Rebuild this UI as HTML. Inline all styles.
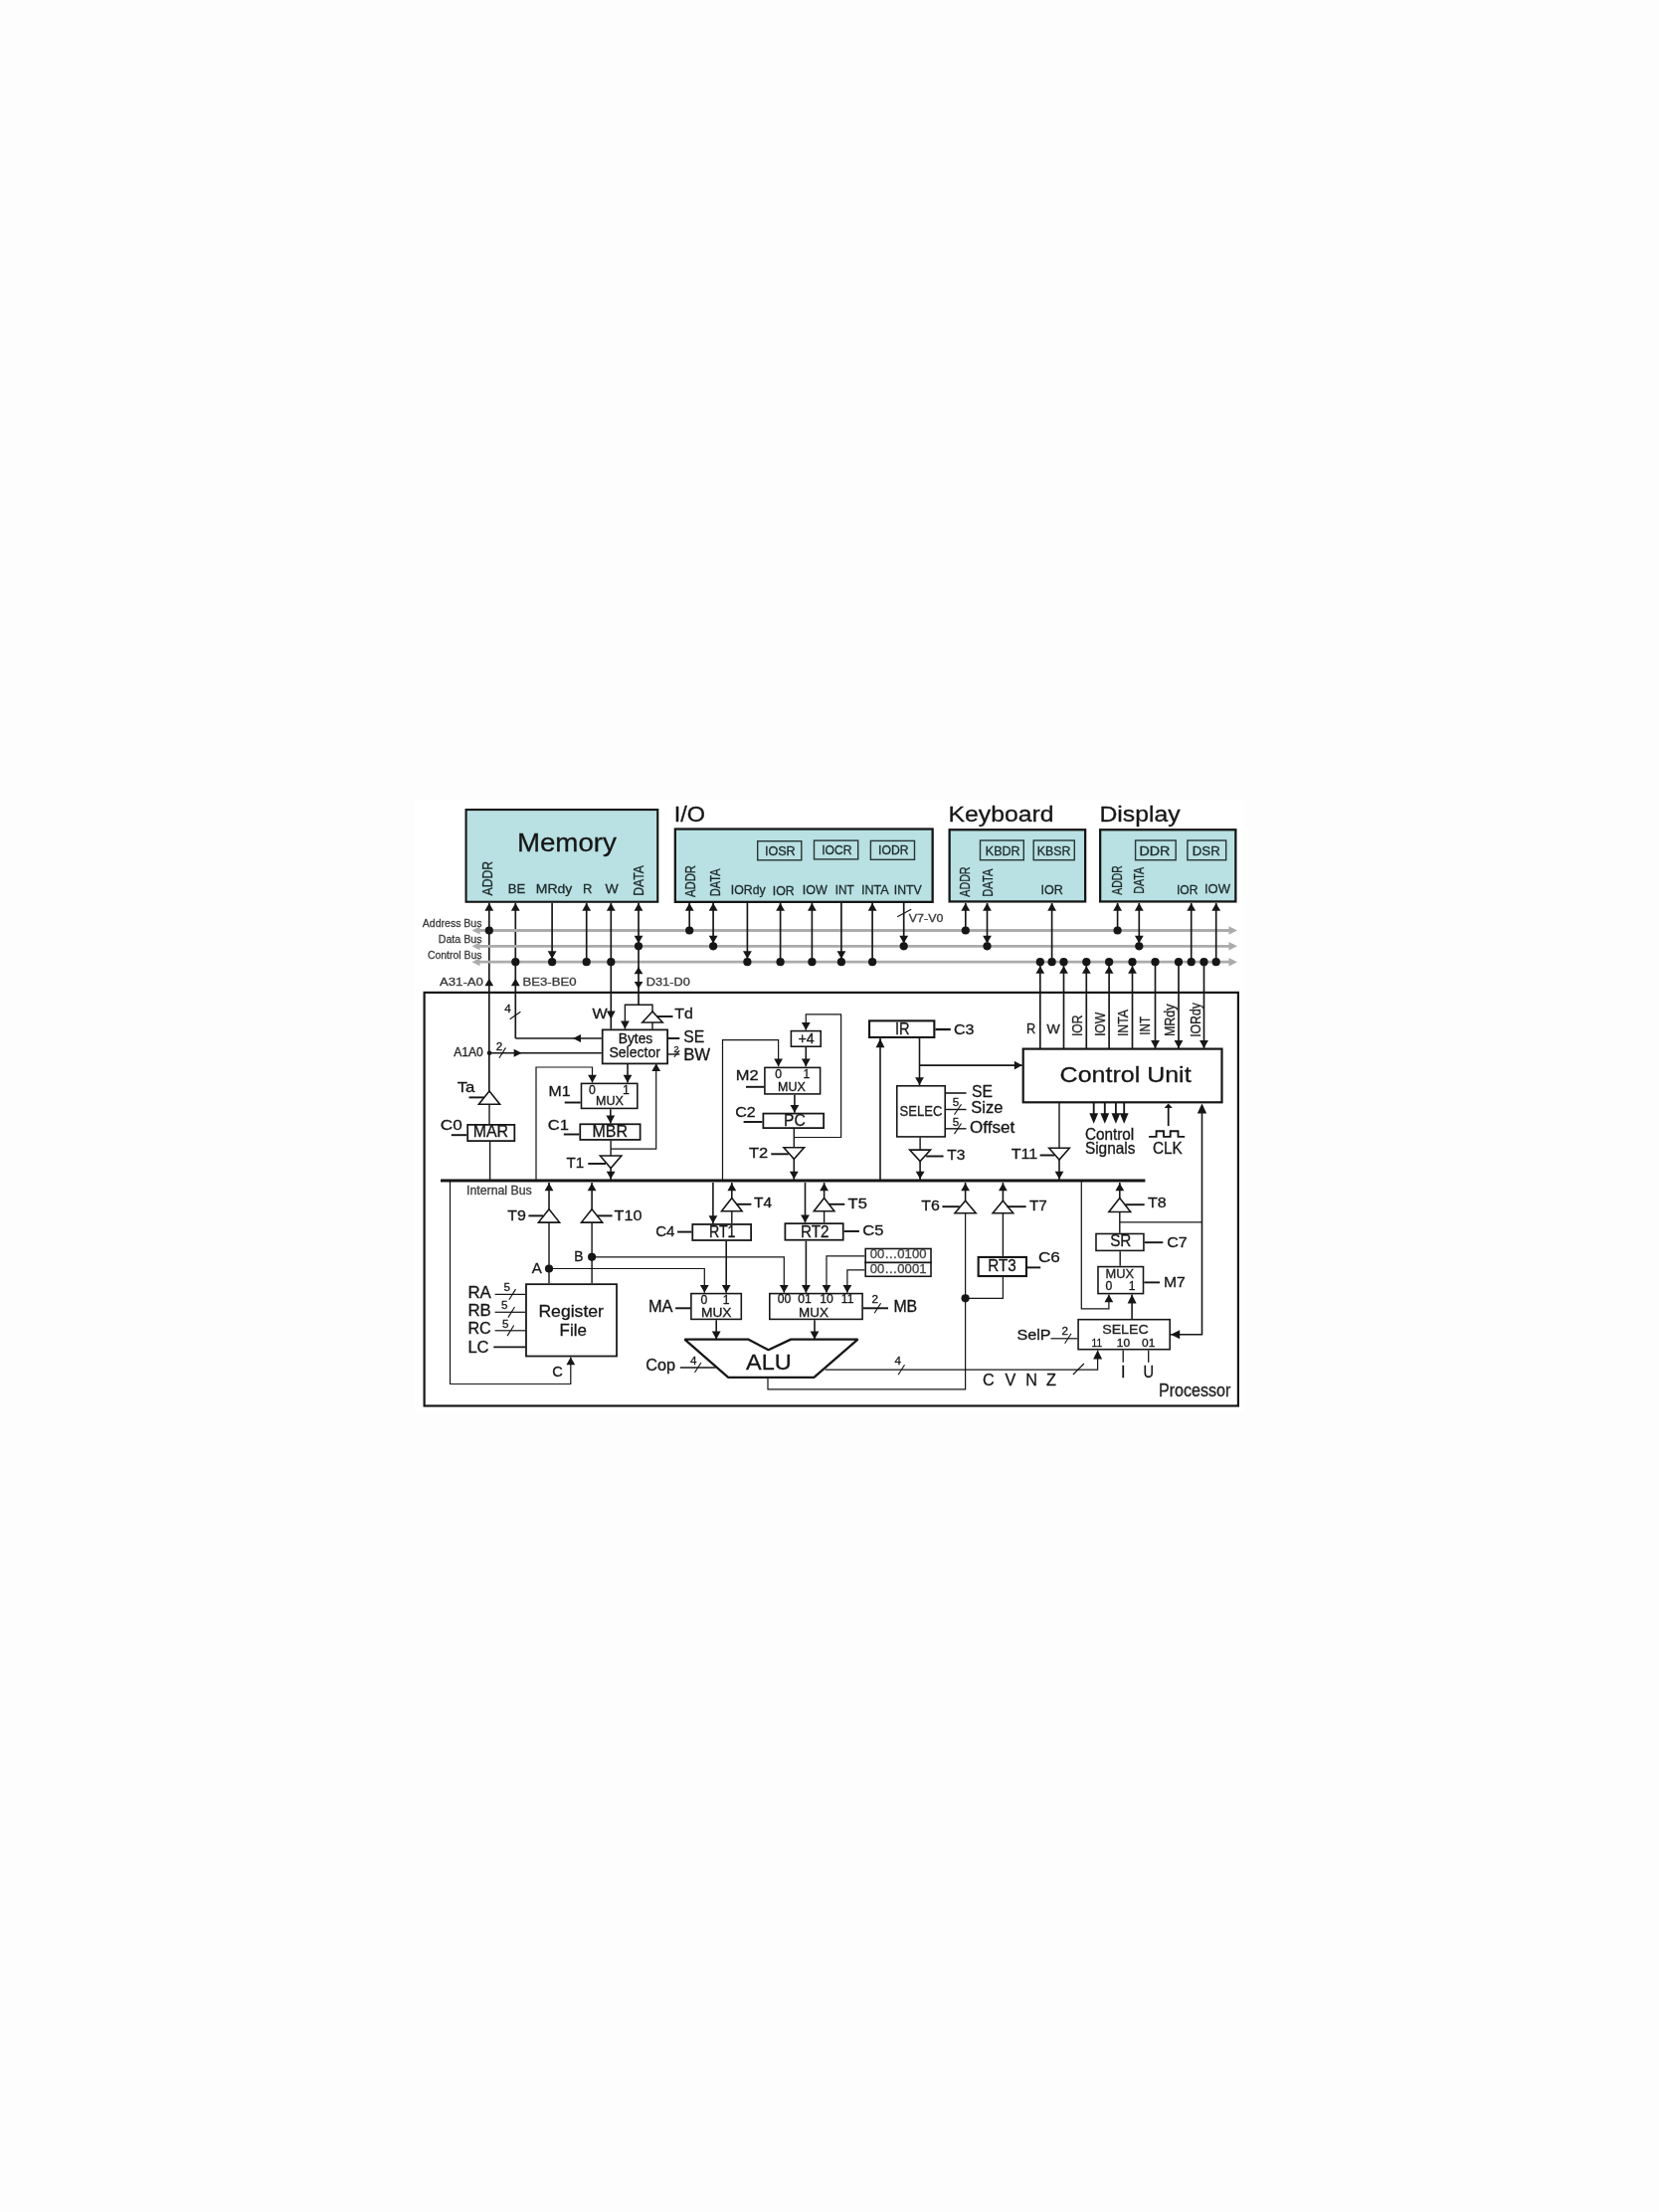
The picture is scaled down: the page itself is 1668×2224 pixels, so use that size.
<!DOCTYPE html>
<html><head><meta charset="utf-8"><style>
html,body{margin:0;padding:0;background:#fdfdfd;}
body{width:1668px;height:2224px;overflow:hidden;position:relative;}
svg{position:absolute;left:0;top:0;filter:blur(0.3px);}
text{font-family:"Liberation Sans",sans-serif;}
</style></head><body>
<svg width="1668" height="2224" viewBox="0 0 1668 2224">
<rect x="417" y="805" width="834" height="614" fill="#ffffff"/>
<rect x="468.56" y="814.06" width="192.69" height="92.69" fill="#b9e0e2" stroke="#161616" stroke-width="2.11"/>
<rect x="678.84" y="833.54" width="258.81" height="73.31" fill="#b9e0e2" stroke="#161616" stroke-width="2.29"/>
<rect x="954.64" y="834.24" width="136.51" height="72.21" fill="#b9e0e2" stroke="#161616" stroke-width="2.29"/>
<rect x="1106.14" y="834.24" width="136.21" height="72.21" fill="#b9e0e2" stroke="#161616" stroke-width="2.29"/>
<rect x="761.7" y="845.7" width="44.09" height="19.09" fill="none" stroke="#263638" stroke-width="1.41"/>
<rect x="818.5" y="845.1" width="44.19" height="18.79" fill="none" stroke="#263638" stroke-width="1.41"/>
<rect x="875.4" y="845.4" width="44.09" height="18.89" fill="none" stroke="#263638" stroke-width="1.41"/>
<rect x="985.5" y="845" width="43.79" height="19.69" fill="none" stroke="#263638" stroke-width="1.41"/>
<rect x="1039.2" y="845" width="41.09" height="19.69" fill="none" stroke="#263638" stroke-width="1.41"/>
<rect x="1141.6" y="845" width="40.59" height="19.69" fill="none" stroke="#263638" stroke-width="1.41"/>
<rect x="1193.9" y="845" width="38.79" height="19.69" fill="none" stroke="#263638" stroke-width="1.41"/>
<text x="519.9" y="856.3" font-size="26.46" fill="#161616" stroke="#161616" stroke-width="0.3" text-anchor="start" textLength="100" lengthAdjust="spacingAndGlyphs">Memory</text>
<text x="677.7" y="826.2" font-size="22.68" fill="#161616" stroke="#161616" stroke-width="0.3" text-anchor="start" textLength="31.3" lengthAdjust="spacingAndGlyphs">I/O</text>
<text x="953.5" y="826.2" font-size="22.68" fill="#161616" stroke="#161616" stroke-width="0.3" text-anchor="start" textLength="106" lengthAdjust="spacingAndGlyphs">Keyboard</text>
<text x="1105.4" y="826.2" font-size="22.68" fill="#161616" stroke="#161616" stroke-width="0.3" text-anchor="start" textLength="81.2" lengthAdjust="spacingAndGlyphs">Display</text>
<text x="768.9" y="859.6" font-size="12.2" fill="#1d2a2c" stroke="#1d2a2c" stroke-width="0.3" text-anchor="start" textLength="30.8" lengthAdjust="spacingAndGlyphs">IOSR</text>
<text x="826.2" y="858.7" font-size="12.2" fill="#1d2a2c" stroke="#1d2a2c" stroke-width="0.3" text-anchor="start" textLength="30.4" lengthAdjust="spacingAndGlyphs">IOCR</text>
<text x="883.1" y="859.4" font-size="12.2" fill="#1d2a2c" stroke="#1d2a2c" stroke-width="0.3" text-anchor="start" textLength="30.4" lengthAdjust="spacingAndGlyphs">IODR</text>
<text x="990.8" y="859.8" font-size="12.2" fill="#1d2a2c" stroke="#1d2a2c" stroke-width="0.3" text-anchor="start" textLength="34.8" lengthAdjust="spacingAndGlyphs">KBDR</text>
<text x="1042.8" y="859.8" font-size="12.2" fill="#1d2a2c" stroke="#1d2a2c" stroke-width="0.3" text-anchor="start" textLength="33.6" lengthAdjust="spacingAndGlyphs">KBSR</text>
<text x="1145.5" y="859.8" font-size="12.2" fill="#1d2a2c" stroke="#1d2a2c" stroke-width="0.3" text-anchor="start" textLength="30.9" lengthAdjust="spacingAndGlyphs">DDR</text>
<text x="1198.8" y="859.8" font-size="12.2" fill="#1d2a2c" stroke="#1d2a2c" stroke-width="0.3" text-anchor="start" textLength="28" lengthAdjust="spacingAndGlyphs">DSR</text>
<text transform="translate(494.8,900.5) rotate(-90)" font-size="14.49" fill="#1d2a2c" stroke="#1d2a2c" stroke-width="0.3" textLength="34.7" lengthAdjust="spacingAndGlyphs">ADDR</text>
<text x="510.8" y="897.5" font-size="13.18" fill="#1d2a2c" stroke="#1d2a2c" stroke-width="0.3" text-anchor="start" textLength="17.5" lengthAdjust="spacingAndGlyphs">BE</text>
<text x="538.8" y="898" font-size="13.18" fill="#1d2a2c" stroke="#1d2a2c" stroke-width="0.3" text-anchor="start" textLength="36.5" lengthAdjust="spacingAndGlyphs">MRdy</text>
<text x="585.9" y="898" font-size="13.18" fill="#1d2a2c" stroke="#1d2a2c" stroke-width="0.3" text-anchor="start" textLength="9.3" lengthAdjust="spacingAndGlyphs">R</text>
<text x="608.5" y="898" font-size="13.18" fill="#1d2a2c" stroke="#1d2a2c" stroke-width="0.3" text-anchor="start" textLength="13.2" lengthAdjust="spacingAndGlyphs">W</text>
<text transform="translate(646.7,900.7) rotate(-90)" font-size="14.49" fill="#1d2a2c" stroke="#1d2a2c" stroke-width="0.3" textLength="30.7" lengthAdjust="spacingAndGlyphs">DATA</text>
<text transform="translate(698.5,902.1) rotate(-90)" font-size="14.49" fill="#1d2a2c" stroke="#1d2a2c" stroke-width="0.3" textLength="32.1" lengthAdjust="spacingAndGlyphs">ADDR</text>
<text transform="translate(723.8,901.2) rotate(-90)" font-size="14.49" fill="#1d2a2c" stroke="#1d2a2c" stroke-width="0.3" textLength="27.8" lengthAdjust="spacingAndGlyphs">DATA</text>
<text x="734.8" y="898.7" font-size="12.96" fill="#1d2a2c" stroke="#1d2a2c" stroke-width="0.3" text-anchor="start" textLength="34.9" lengthAdjust="spacingAndGlyphs">IORdy</text>
<text x="776.8" y="899.6" font-size="12.96" fill="#1d2a2c" stroke="#1d2a2c" stroke-width="0.3" text-anchor="start" textLength="21.9" lengthAdjust="spacingAndGlyphs">IOR</text>
<text x="806.8" y="899" font-size="12.96" fill="#1d2a2c" stroke="#1d2a2c" stroke-width="0.3" text-anchor="start" textLength="25" lengthAdjust="spacingAndGlyphs">IOW</text>
<text x="839.7" y="899" font-size="12.96" fill="#1d2a2c" stroke="#1d2a2c" stroke-width="0.3" text-anchor="start" textLength="19.1" lengthAdjust="spacingAndGlyphs">INT</text>
<text x="865.9" y="899" font-size="12.96" fill="#1d2a2c" stroke="#1d2a2c" stroke-width="0.3" text-anchor="start" textLength="27.9" lengthAdjust="spacingAndGlyphs">INTA</text>
<text x="898.8" y="899" font-size="12.96" fill="#1d2a2c" stroke="#1d2a2c" stroke-width="0.3" text-anchor="start" textLength="27.9" lengthAdjust="spacingAndGlyphs">INTV</text>
<text transform="translate(975.2,901.7) rotate(-90)" font-size="14.49" fill="#1d2a2c" stroke="#1d2a2c" stroke-width="0.3" textLength="30.3" lengthAdjust="spacingAndGlyphs">ADDR</text>
<text transform="translate(997.6,901.7) rotate(-90)" font-size="14.49" fill="#1d2a2c" stroke="#1d2a2c" stroke-width="0.3" textLength="28" lengthAdjust="spacingAndGlyphs">DATA</text>
<text x="1046.5" y="899" font-size="12.96" fill="#1d2a2c" stroke="#1d2a2c" stroke-width="0.3" text-anchor="start" textLength="22.4" lengthAdjust="spacingAndGlyphs">IOR</text>
<text transform="translate(1127.5,899.8) rotate(-90)" font-size="14.49" fill="#1d2a2c" stroke="#1d2a2c" stroke-width="0.3" textLength="29.5" lengthAdjust="spacingAndGlyphs">ADDR</text>
<text transform="translate(1149.9,898.8) rotate(-90)" font-size="14.49" fill="#1d2a2c" stroke="#1d2a2c" stroke-width="0.3" textLength="27" lengthAdjust="spacingAndGlyphs">DATA</text>
<text x="1182.9" y="899" font-size="12.96" fill="#1d2a2c" stroke="#1d2a2c" stroke-width="0.3" text-anchor="start" textLength="21.5" lengthAdjust="spacingAndGlyphs">IOR</text>
<text x="1211" y="898" font-size="12.96" fill="#1d2a2c" stroke="#1d2a2c" stroke-width="0.3" text-anchor="start" textLength="26" lengthAdjust="spacingAndGlyphs">IOW</text>
<line x1="491.8" y1="908" x2="491.8" y2="1097" stroke="#161616" stroke-width="1.67"/>
<line x1="518.3" y1="908" x2="518.3" y2="1044" stroke="#161616" stroke-width="1.67"/>
<line x1="478" y1="935.5" x2="1237" y2="935.5" stroke="#ababab" stroke-width="2.8"/>
<polygon points="474.5,935.5 482.5,931.5 482.5,939.5" fill="#ababab"/>
<polygon points="1244,935.5 1235.5,931.2 1235.5,939.8" fill="#ababab"/>
<line x1="478" y1="951.3" x2="1237" y2="951.3" stroke="#ababab" stroke-width="2.8"/>
<polygon points="474.5,951.3 482.5,947.3 482.5,955.3" fill="#ababab"/>
<polygon points="1244,951.3 1235.5,947 1235.5,955.6" fill="#ababab"/>
<line x1="478" y1="967.2" x2="1237" y2="967.2" stroke="#ababab" stroke-width="2.8"/>
<polygon points="474.5,967.2 482.5,963.2 482.5,971.2" fill="#ababab"/>
<polygon points="1244,967.2 1235.5,962.9 1235.5,971.5" fill="#ababab"/>
<line x1="555.1" y1="908" x2="555.1" y2="967.2" stroke="#161616" stroke-width="1.67"/>
<line x1="589.7" y1="908" x2="589.7" y2="967.2" stroke="#161616" stroke-width="1.67"/>
<line x1="614.3" y1="908" x2="614.3" y2="1034.7" stroke="#161616" stroke-width="1.67"/>
<line x1="642" y1="908" x2="642" y2="1010.3" stroke="#161616" stroke-width="1.67"/>
<line x1="693.2" y1="908" x2="693.2" y2="935.5" stroke="#161616" stroke-width="1.67"/>
<line x1="717.1" y1="908" x2="717.1" y2="951.3" stroke="#161616" stroke-width="1.67"/>
<line x1="751.4" y1="908" x2="751.4" y2="967.2" stroke="#161616" stroke-width="1.67"/>
<line x1="784.6" y1="908" x2="784.6" y2="967.2" stroke="#161616" stroke-width="1.67"/>
<line x1="816.4" y1="908" x2="816.4" y2="967.2" stroke="#161616" stroke-width="1.67"/>
<line x1="877.1" y1="908" x2="877.1" y2="967.2" stroke="#161616" stroke-width="1.67"/>
<line x1="845.9" y1="908" x2="845.9" y2="967.2" stroke="#161616" stroke-width="1.67"/>
<line x1="908.7" y1="908" x2="908.7" y2="951.3" stroke="#161616" stroke-width="1.67"/>
<line x1="902.2" y1="921.8" x2="916.2" y2="914.2" stroke="#161616" stroke-width="1.14"/>
<line x1="970.8" y1="908" x2="970.8" y2="935.5" stroke="#161616" stroke-width="1.67"/>
<line x1="992.5" y1="908" x2="992.5" y2="951.3" stroke="#161616" stroke-width="1.67"/>
<line x1="1057.6" y1="908" x2="1057.6" y2="967.2" stroke="#161616" stroke-width="1.67"/>
<line x1="1123.6" y1="908" x2="1123.6" y2="935.5" stroke="#161616" stroke-width="1.67"/>
<line x1="1145.3" y1="908" x2="1145.3" y2="951.3" stroke="#161616" stroke-width="1.67"/>
<line x1="1197.7" y1="908" x2="1197.7" y2="967.2" stroke="#161616" stroke-width="1.67"/>
<line x1="1222.7" y1="908" x2="1222.7" y2="967.2" stroke="#161616" stroke-width="1.67"/>
<line x1="1045.8" y1="967.2" x2="1045.8" y2="1054" stroke="#161616" stroke-width="1.67"/>
<line x1="1069.5" y1="967.2" x2="1069.5" y2="1054" stroke="#161616" stroke-width="1.67"/>
<line x1="1092.3" y1="967.2" x2="1092.3" y2="1054" stroke="#161616" stroke-width="1.67"/>
<line x1="1115.1" y1="967.2" x2="1115.1" y2="1054" stroke="#161616" stroke-width="1.67"/>
<line x1="1138.5" y1="967.2" x2="1138.5" y2="1054" stroke="#161616" stroke-width="1.67"/>
<line x1="1161.5" y1="967.2" x2="1161.5" y2="1054" stroke="#161616" stroke-width="1.67"/>
<line x1="1185" y1="967.2" x2="1185" y2="1054" stroke="#161616" stroke-width="1.67"/>
<line x1="1210.5" y1="967.2" x2="1210.5" y2="1054" stroke="#161616" stroke-width="1.67"/>
<text x="484.5" y="931.6" font-size="11.34" fill="#3a3a3a" stroke="#3a3a3a" stroke-width="0.3" text-anchor="end" textLength="59.7" lengthAdjust="spacingAndGlyphs">Address Bus</text>
<text x="484.5" y="947.6" font-size="11.34" fill="#3a3a3a" stroke="#3a3a3a" stroke-width="0.3" text-anchor="end" textLength="43.8" lengthAdjust="spacingAndGlyphs">Data Bus</text>
<text x="484.5" y="963.6" font-size="11.34" fill="#3a3a3a" stroke="#3a3a3a" stroke-width="0.3" text-anchor="end" textLength="54.6" lengthAdjust="spacingAndGlyphs">Control Bus</text>
<polygon points="491.8,908 487.4,915.8 496.2,915.8" fill="#161616"/>
<circle cx="491.8" cy="935.5" r="4.1" fill="#161616"/>
<polygon points="491.8,983.8 487.4,991.3 496.2,991.3" fill="#161616"/>
<polygon points="518.3,908 513.9,915.8 522.7,915.8" fill="#161616"/>
<circle cx="518.3" cy="967.2" r="4.1" fill="#161616"/>
<polygon points="518.3,983.8 513.9,991.3 522.7,991.3" fill="#161616"/>
<polygon points="555.1,964 550.7,956.2 559.5,956.2" fill="#161616"/>
<circle cx="555.1" cy="967.2" r="4.1" fill="#161616"/>
<polygon points="589.7,908 585.3,915.8 594.1,915.8" fill="#161616"/>
<circle cx="589.7" cy="967.2" r="4.1" fill="#161616"/>
<polygon points="614.3,908 609.9,915.8 618.7,915.8" fill="#161616"/>
<circle cx="614.3" cy="967.2" r="4.1" fill="#161616"/>
<polygon points="642,908 637.6,915.8 646.4,915.8" fill="#161616"/>
<polygon points="642,948.5 637.6,940.7 646.4,940.7" fill="#161616"/>
<circle cx="642" cy="951.3" r="4.1" fill="#161616"/>
<polygon points="642,972.3 637.6,979.3 646.4,979.3" fill="#161616"/>
<polygon points="642,994 637.6,987 646.4,987" fill="#161616"/>
<text x="442" y="991" font-size="11.34" fill="#3a3a3a" stroke="#3a3a3a" stroke-width="0.3" text-anchor="start" textLength="43.9" lengthAdjust="spacingAndGlyphs">A31-A0</text>
<text x="525.5" y="991" font-size="11.34" fill="#3a3a3a" stroke="#3a3a3a" stroke-width="0.3" text-anchor="start" textLength="54.1" lengthAdjust="spacingAndGlyphs">BE3-BE0</text>
<text x="649.8" y="991.2" font-size="11.34" fill="#3a3a3a" stroke="#3a3a3a" stroke-width="0.3" text-anchor="start" textLength="44" lengthAdjust="spacingAndGlyphs">D31-D0</text>
<polygon points="693.2,908 688.8,915.8 697.6,915.8" fill="#161616"/>
<circle cx="693.2" cy="935.5" r="4.1" fill="#161616"/>
<polygon points="717.1,908 712.7,915.8 721.5,915.8" fill="#161616"/>
<polygon points="717.1,948.5 712.7,940.7 721.5,940.7" fill="#161616"/>
<circle cx="717.1" cy="951.3" r="4.1" fill="#161616"/>
<polygon points="751.4,964 747,956.2 755.8,956.2" fill="#161616"/>
<circle cx="751.4" cy="967.2" r="4.1" fill="#161616"/>
<polygon points="784.6,908 780.2,915.8 789,915.8" fill="#161616"/>
<circle cx="784.6" cy="967.2" r="4.1" fill="#161616"/>
<polygon points="816.4,908 812,915.8 820.8,915.8" fill="#161616"/>
<circle cx="816.4" cy="967.2" r="4.1" fill="#161616"/>
<polygon points="877.1,908 872.7,915.8 881.5,915.8" fill="#161616"/>
<circle cx="877.1" cy="967.2" r="4.1" fill="#161616"/>
<polygon points="845.9,964 841.5,956.2 850.3,956.2" fill="#161616"/>
<circle cx="845.9" cy="967.2" r="4.1" fill="#161616"/>
<polygon points="908.7,948.5 904.3,940.7 913.1,940.7" fill="#161616"/>
<circle cx="908.7" cy="951.3" r="4.1" fill="#161616"/>
<text x="913.8" y="927" font-size="11.34" fill="#3a3a3a" stroke="#3a3a3a" stroke-width="0.3" text-anchor="start" textLength="34.6" lengthAdjust="spacingAndGlyphs">V7-V0</text>
<polygon points="970.8,908 966.4,915.8 975.2,915.8" fill="#161616"/>
<circle cx="970.8" cy="935.5" r="4.1" fill="#161616"/>
<polygon points="992.5,908 988.1,915.8 996.9,915.8" fill="#161616"/>
<polygon points="992.5,948.5 988.1,940.7 996.9,940.7" fill="#161616"/>
<circle cx="992.5" cy="951.3" r="4.1" fill="#161616"/>
<polygon points="1057.6,908 1053.2,915.8 1062,915.8" fill="#161616"/>
<circle cx="1057.6" cy="967.2" r="4.1" fill="#161616"/>
<polygon points="1123.6,908 1119.2,915.8 1128,915.8" fill="#161616"/>
<circle cx="1123.6" cy="935.5" r="4.1" fill="#161616"/>
<polygon points="1145.3,908 1140.9,915.8 1149.7,915.8" fill="#161616"/>
<polygon points="1145.3,948.5 1140.9,940.7 1149.7,940.7" fill="#161616"/>
<circle cx="1145.3" cy="951.3" r="4.1" fill="#161616"/>
<polygon points="1197.7,908 1193.3,915.8 1202.1,915.8" fill="#161616"/>
<circle cx="1197.7" cy="967.2" r="4.1" fill="#161616"/>
<polygon points="1222.7,908 1218.3,915.8 1227.1,915.8" fill="#161616"/>
<circle cx="1222.7" cy="967.2" r="4.1" fill="#161616"/>
<polygon points="1045.8,971.2 1041.4,978.7 1050.2,978.7" fill="#161616"/>
<circle cx="1045.8" cy="967.2" r="4.1" fill="#161616"/>
<polygon points="1069.5,971.2 1065.1,978.7 1073.9,978.7" fill="#161616"/>
<circle cx="1069.5" cy="967.2" r="4.1" fill="#161616"/>
<polygon points="1092.3,971.2 1087.9,978.7 1096.7,978.7" fill="#161616"/>
<circle cx="1092.3" cy="967.2" r="4.1" fill="#161616"/>
<polygon points="1115.1,971.2 1110.7,978.7 1119.5,978.7" fill="#161616"/>
<circle cx="1115.1" cy="967.2" r="4.1" fill="#161616"/>
<polygon points="1138.5,971.2 1134.1,978.7 1142.9,978.7" fill="#161616"/>
<circle cx="1138.5" cy="967.2" r="4.1" fill="#161616"/>
<polygon points="1161.5,1054 1157.1,1046 1165.9,1046" fill="#161616"/>
<circle cx="1161.5" cy="967.2" r="4.1" fill="#161616"/>
<polygon points="1185,1054 1180.6,1046 1189.4,1046" fill="#161616"/>
<circle cx="1185" cy="967.2" r="4.1" fill="#161616"/>
<polygon points="1210.5,1054 1206.1,1046 1214.9,1046" fill="#161616"/>
<circle cx="1210.5" cy="967.2" r="4.1" fill="#161616"/>
<rect x="426.6" y="997.9" width="818.3" height="415.6" fill="none" stroke="#161616" stroke-width="2.2"/>
<line x1="443" y1="1187" x2="1151.4" y2="1187" stroke="#161616" stroke-width="3.17"/>
<text x="469" y="1200.6" font-size="11.88" fill="#3a3a3a" stroke="#3a3a3a" stroke-width="0.3" text-anchor="start" textLength="65.7" lengthAdjust="spacingAndGlyphs">Internal Bus</text>
<text x="1165" y="1404.4" font-size="17.82" fill="#222" stroke="#222" stroke-width="0.3" text-anchor="start" textLength="72.4" lengthAdjust="spacingAndGlyphs">Processor</text>
<polygon points="492,1097 481.4,1110.2 502.6,1110.2" fill="#fff" stroke="#161616" stroke-width="1.58" stroke-linejoin="miter"/>
<line x1="471.5" y1="1103.4" x2="486.7" y2="1103.4" stroke="#161616" stroke-width="1.94"/>
<text x="459.7" y="1097.8" font-size="15.12" fill="#161616" stroke="#161616" stroke-width="0.3" text-anchor="start" textLength="17.7" lengthAdjust="spacingAndGlyphs">Ta</text>
<line x1="492" y1="1110.2" x2="492" y2="1130" stroke="#161616" stroke-width="1.41"/>
<rect x="470.18" y="1130.88" width="47.14" height="16.24" fill="none" stroke="#161616" stroke-width="1.76"/>
<text x="475.7" y="1143.4" font-size="16.2" fill="#161616" stroke="#161616" stroke-width="0.3" text-anchor="start" textLength="35.4" lengthAdjust="spacingAndGlyphs">MAR</text>
<line x1="453.8" y1="1141.2" x2="469.3" y2="1141.2" stroke="#161616" stroke-width="1.94"/>
<text x="442.8" y="1135.8" font-size="15.12" fill="#161616" stroke="#161616" stroke-width="0.3" text-anchor="start" textLength="21.9" lengthAdjust="spacingAndGlyphs">C0</text>
<line x1="492.6" y1="1148" x2="492.6" y2="1187" stroke="#161616" stroke-width="1.41"/>
<circle cx="492" cy="1058.7" r="2.3" fill="#161616"/>
<line x1="492" y1="1058.7" x2="604.8" y2="1058.7" stroke="#161616" stroke-width="1.58"/>
<polygon points="524.6,1058.7 516.6,1054.7 516.6,1062.7" fill="#161616"/>
<line x1="501.9" y1="1063.8" x2="508.5" y2="1053.4" stroke="#161616" stroke-width="1.14"/>
<text x="498.8" y="1056.2" font-size="11.66" fill="#161616" stroke="#161616" stroke-width="0.3" text-anchor="start">2</text>
<text x="456.3" y="1062.2" font-size="11.88" fill="#222" stroke="#222" stroke-width="0.3" text-anchor="start" textLength="29.5" lengthAdjust="spacingAndGlyphs">A1A0</text>
<line x1="518.3" y1="1044" x2="604.8" y2="1044" stroke="#161616" stroke-width="1.58"/>
<polygon points="576,1044 584,1040 584,1048" fill="#161616"/>
<line x1="512.6" y1="1024.7" x2="523.4" y2="1017.3" stroke="#161616" stroke-width="1.14"/>
<text x="507.3" y="1017.8" font-size="11.66" fill="#161616" stroke="#161616" stroke-width="0.3" text-anchor="start">4</text>
<polygon points="614.3,1024.6 609.9,1016.6 618.7,1016.6" fill="#161616"/>
<text x="595.5" y="1023.8" font-size="15.12" fill="#161616" stroke="#161616" stroke-width="0.3" text-anchor="start" textLength="15.2" lengthAdjust="spacingAndGlyphs">W</text>
<polyline points="628.4,1034.7 628.4,1010.3 656,1010.3 656,1017" fill="none" stroke="#161616" stroke-width="1.41" stroke-linejoin="miter"/>
<polygon points="628.4,1034.5 624,1026.5 632.8,1026.5" fill="#161616"/>
<polygon points="656,1017 645.8,1028 666.2,1028" fill="#fff" stroke="#161616" stroke-width="1.58" stroke-linejoin="miter"/>
<line x1="656" y1="1028" x2="656" y2="1034.7" stroke="#161616" stroke-width="1.41"/>
<line x1="660.5" y1="1022" x2="676.5" y2="1022" stroke="#161616" stroke-width="1.94"/>
<text x="678.2" y="1023.8" font-size="15.12" fill="#161616" stroke="#161616" stroke-width="0.3" text-anchor="start" textLength="18.6" lengthAdjust="spacingAndGlyphs">Td</text>
<rect x="605.68" y="1035.38" width="65.44" height="34.04" fill="none" stroke="#161616" stroke-width="1.76"/>
<text x="621.7" y="1049" font-size="14.04" fill="#161616" stroke="#161616" stroke-width="0.3" text-anchor="start" textLength="34.6" lengthAdjust="spacingAndGlyphs">Bytes</text>
<text x="612.4" y="1062.9" font-size="14.04" fill="#161616" stroke="#161616" stroke-width="0.3" text-anchor="start" textLength="51.5" lengthAdjust="spacingAndGlyphs">Selector</text>
<line x1="672" y1="1044" x2="683.3" y2="1044" stroke="#161616" stroke-width="1.94"/>
<text x="687.2" y="1047.8" font-size="16.2" fill="#161616" stroke="#161616" stroke-width="0.3" text-anchor="start" textLength="21" lengthAdjust="spacingAndGlyphs">SE</text>
<line x1="672" y1="1060" x2="683.3" y2="1060" stroke="#161616" stroke-width="1.41"/>
<line x1="677.8" y1="1062.8" x2="683.2" y2="1056.2" stroke="#161616" stroke-width="1.06"/>
<text x="677.4" y="1057.5" font-size="9.18" fill="#161616" stroke="#161616" stroke-width="0.3" text-anchor="start">2</text>
<text x="687.2" y="1066.1" font-size="16.2" fill="#161616" stroke="#161616" stroke-width="0.3" text-anchor="start" textLength="27" lengthAdjust="spacingAndGlyphs">BW</text>
<line x1="631" y1="1069.3" x2="631" y2="1088.6" stroke="#161616" stroke-width="1.58"/>
<polygon points="631,1088.6 626.6,1080.8 635.4,1080.8" fill="#161616"/>
<polyline points="539,1187 539,1073 595.5,1073 595.5,1088.6" fill="none" stroke="#161616" stroke-width="1.23" stroke-linejoin="miter"/>
<polygon points="595.5,1088.6 591.1,1080.8 599.9,1080.8" fill="#161616"/>
<rect x="584.49" y="1089.39" width="56.32" height="25.02" fill="none" stroke="#161616" stroke-width="1.58"/>
<text x="595.5" y="1099.5" font-size="12.2" fill="#161616" stroke="#161616" stroke-width="0.3" text-anchor="middle">0</text>
<text x="629.3" y="1099.5" font-size="12.2" fill="#161616" stroke="#161616" stroke-width="0.3" text-anchor="middle">1</text>
<text x="599" y="1111.4" font-size="11.88" fill="#161616" stroke="#161616" stroke-width="0.3" text-anchor="start" textLength="27.8" lengthAdjust="spacingAndGlyphs">MUX</text>
<line x1="567.7" y1="1108.5" x2="583.7" y2="1108.5" stroke="#161616" stroke-width="1.94"/>
<text x="551.6" y="1102.1" font-size="15.12" fill="#161616" stroke="#161616" stroke-width="0.3" text-anchor="start" textLength="22" lengthAdjust="spacingAndGlyphs">M1</text>
<line x1="613.8" y1="1115.2" x2="613.8" y2="1129.4" stroke="#161616" stroke-width="1.58"/>
<polygon points="613.8,1129.4 609.4,1121.6 618.2,1121.6" fill="#161616"/>
<rect x="583.28" y="1130.28" width="60.34" height="15.64" fill="none" stroke="#161616" stroke-width="1.76"/>
<text x="595.5" y="1143" font-size="16.2" fill="#161616" stroke="#161616" stroke-width="0.3" text-anchor="start" textLength="35.5" lengthAdjust="spacingAndGlyphs">MBR</text>
<line x1="566.8" y1="1140.5" x2="582.4" y2="1140.5" stroke="#161616" stroke-width="1.94"/>
<text x="550.8" y="1135.8" font-size="15.12" fill="#161616" stroke="#161616" stroke-width="0.3" text-anchor="start" textLength="21.1" lengthAdjust="spacingAndGlyphs">C1</text>
<line x1="614.1" y1="1146.8" x2="614.1" y2="1162" stroke="#161616" stroke-width="1.41"/>
<polyline points="614.1,1155.2 659.7,1155.2 659.7,1069.3" fill="none" stroke="#161616" stroke-width="1.23" stroke-linejoin="miter"/>
<polygon points="659.7,1069.3 655.3,1077.1 664.1,1077.1" fill="#161616"/>
<polygon points="603.4,1162 624.8,1162 614.1,1174.6" fill="#fff" stroke="#161616" stroke-width="1.58" stroke-linejoin="miter"/>
<line x1="591.3" y1="1170" x2="609" y2="1170" stroke="#161616" stroke-width="1.94"/>
<text x="569.4" y="1173.8" font-size="15.12" fill="#161616" stroke="#161616" stroke-width="0.3" text-anchor="start" textLength="17.7" lengthAdjust="spacingAndGlyphs">T1</text>
<line x1="614.1" y1="1174.6" x2="614.1" y2="1187" stroke="#161616" stroke-width="1.58"/>
<polygon points="614.1,1185.5 609.7,1177.7 618.5,1177.7" fill="#161616"/>
<polyline points="726.5,1187 726.5,1045.6 782.6,1045.6 782.6,1072.3" fill="none" stroke="#161616" stroke-width="1.23" stroke-linejoin="miter"/>
<polygon points="782.6,1072.3 778.2,1064.5 787,1064.5" fill="#161616"/>
<rect x="795.39" y="1036.59" width="29.82" height="15.62" fill="none" stroke="#161616" stroke-width="1.58"/>
<text x="802.5" y="1048.8" font-size="14.04" fill="#161616" stroke="#161616" stroke-width="0.3" text-anchor="start" textLength="16.2" lengthAdjust="spacingAndGlyphs">+4</text>
<polyline points="798.3,1143.5 845.6,1143.5 845.6,1019.9 810.3,1019.9 810.3,1035.8" fill="none" stroke="#161616" stroke-width="1.23" stroke-linejoin="miter"/>
<polygon points="810.3,1035.8 805.9,1028 814.7,1028" fill="#161616"/>
<line x1="810.3" y1="1053" x2="810.3" y2="1072.3" stroke="#161616" stroke-width="1.58"/>
<polygon points="810.3,1072.3 805.9,1064.5 814.7,1064.5" fill="#161616"/>
<rect x="768.89" y="1073.39" width="55.72" height="26.52" fill="none" stroke="#161616" stroke-width="1.58"/>
<text x="782.6" y="1084.4" font-size="12.2" fill="#161616" stroke="#161616" stroke-width="0.3" text-anchor="middle">0</text>
<text x="810.9" y="1084.4" font-size="12.2" fill="#161616" stroke="#161616" stroke-width="0.3" text-anchor="middle">1</text>
<text x="782" y="1097" font-size="11.88" fill="#161616" stroke="#161616" stroke-width="0.3" text-anchor="start" textLength="27.7" lengthAdjust="spacingAndGlyphs">MUX</text>
<line x1="750" y1="1092.8" x2="768.1" y2="1092.8" stroke="#161616" stroke-width="1.94"/>
<text x="739.8" y="1086.2" font-size="15.12" fill="#161616" stroke="#161616" stroke-width="0.3" text-anchor="start" textLength="22.9" lengthAdjust="spacingAndGlyphs">M2</text>
<line x1="798.9" y1="1100.7" x2="798.9" y2="1118.7" stroke="#161616" stroke-width="1.58"/>
<polygon points="798.9,1118.7 794.5,1110.9 803.3,1110.9" fill="#161616"/>
<rect x="767.38" y="1119.58" width="60.74" height="14.54" fill="none" stroke="#161616" stroke-width="1.76"/>
<text x="788" y="1132" font-size="16.2" fill="#161616" stroke="#161616" stroke-width="0.3" text-anchor="start" textLength="21.7" lengthAdjust="spacingAndGlyphs">PC</text>
<line x1="747.6" y1="1128" x2="766.5" y2="1128" stroke="#161616" stroke-width="1.94"/>
<text x="739.2" y="1123" font-size="15.12" fill="#161616" stroke="#161616" stroke-width="0.3" text-anchor="start" textLength="20.5" lengthAdjust="spacingAndGlyphs">C2</text>
<line x1="798.3" y1="1135" x2="798.3" y2="1153.7" stroke="#161616" stroke-width="1.41"/>
<polygon points="788,1153.7 808.5,1153.7 798.3,1165.2" fill="#fff" stroke="#161616" stroke-width="1.58" stroke-linejoin="miter"/>
<line x1="775.3" y1="1160.3" x2="792.8" y2="1160.3" stroke="#161616" stroke-width="1.94"/>
<text x="753" y="1164" font-size="15.12" fill="#161616" stroke="#161616" stroke-width="0.3" text-anchor="start" textLength="19.3" lengthAdjust="spacingAndGlyphs">T2</text>
<line x1="798.3" y1="1165.2" x2="798.3" y2="1187" stroke="#161616" stroke-width="1.58"/>
<polygon points="798.3,1185.5 793.9,1177.7 802.7,1177.7" fill="#161616"/>
<line x1="885" y1="1187" x2="885" y2="1044" stroke="#161616" stroke-width="1.58"/>
<polygon points="885,1044.2 880.6,1053.2 889.4,1053.2" fill="#161616"/>
<rect x="874.06" y="1026.36" width="65.29" height="16.59" fill="none" stroke="#161616" stroke-width="2.11"/>
<text x="900" y="1039.6" font-size="16.74" fill="#161616" stroke="#161616" stroke-width="0.3" text-anchor="start" textLength="14.6" lengthAdjust="spacingAndGlyphs">IR</text>
<line x1="940.4" y1="1035" x2="955.8" y2="1035" stroke="#161616" stroke-width="2.29"/>
<text x="958.9" y="1039.8" font-size="15.12" fill="#161616" stroke="#161616" stroke-width="0.3" text-anchor="start" textLength="20.4" lengthAdjust="spacingAndGlyphs">C3</text>
<line x1="924.5" y1="1044" x2="924.5" y2="1091" stroke="#161616" stroke-width="1.58"/>
<polygon points="924.5,1091 920.1,1083.2 928.9,1083.2" fill="#161616"/>
<line x1="924.5" y1="1071.1" x2="1027.6" y2="1071.1" stroke="#161616" stroke-width="1.58"/>
<polygon points="1027.6,1071.1 1019.8,1066.7 1019.8,1075.5" fill="#161616"/>
<rect x="901.79" y="1091.79" width="48.42" height="51.12" fill="none" stroke="#161616" stroke-width="1.58"/>
<text x="904.6" y="1122.4" font-size="14.04" fill="#222" stroke="#222" stroke-width="0.3" text-anchor="start" textLength="42.8" lengthAdjust="spacingAndGlyphs">SELEC</text>
<line x1="950.4" y1="1099" x2="971.5" y2="1099" stroke="#161616" stroke-width="1.58"/>
<text x="977" y="1102.5" font-size="16.2" fill="#161616" stroke="#161616" stroke-width="0.3" text-anchor="start" textLength="21" lengthAdjust="spacingAndGlyphs">SE</text>
<line x1="950.4" y1="1115.5" x2="971.5" y2="1115.5" stroke="#161616" stroke-width="1.41"/>
<line x1="959.5" y1="1120.8" x2="966.5" y2="1110.2" stroke="#161616" stroke-width="1.14"/>
<text x="957.8" y="1112" font-size="11.66" fill="#161616" stroke="#161616" stroke-width="0.3" text-anchor="start">5</text>
<text x="976.3" y="1119.3" font-size="16.2" fill="#161616" stroke="#161616" stroke-width="0.3" text-anchor="start" textLength="32" lengthAdjust="spacingAndGlyphs">Size</text>
<line x1="950.4" y1="1134.8" x2="971.5" y2="1134.8" stroke="#161616" stroke-width="1.41"/>
<line x1="959.5" y1="1140.1" x2="966.5" y2="1129.5" stroke="#161616" stroke-width="1.14"/>
<text x="957.8" y="1131.8" font-size="11.66" fill="#161616" stroke="#161616" stroke-width="0.3" text-anchor="start">5</text>
<text x="975.1" y="1139.2" font-size="16.2" fill="#161616" stroke="#161616" stroke-width="0.3" text-anchor="start" textLength="45.2" lengthAdjust="spacingAndGlyphs">Offset</text>
<line x1="925.1" y1="1143.5" x2="925.1" y2="1156.1" stroke="#161616" stroke-width="1.41"/>
<polygon points="914.6,1156.1 935.6,1156.1 925.1,1167.6" fill="#fff" stroke="#161616" stroke-width="1.58" stroke-linejoin="miter"/>
<line x1="931.1" y1="1162.5" x2="948.6" y2="1162.5" stroke="#161616" stroke-width="1.94"/>
<text x="952.2" y="1166.4" font-size="15.12" fill="#161616" stroke="#161616" stroke-width="0.3" text-anchor="start" textLength="18.1" lengthAdjust="spacingAndGlyphs">T3</text>
<line x1="925.1" y1="1167.6" x2="925.1" y2="1187" stroke="#161616" stroke-width="1.58"/>
<polygon points="925.1,1185.5 920.7,1177.7 929.5,1177.7" fill="#161616"/>
<rect x="1028.7" y="1054.6" width="199.8" height="53.7" fill="none" stroke="#161616" stroke-width="2.2"/>
<text x="1065.6" y="1088.2" font-size="22.68" fill="#161616" stroke="#161616" stroke-width="0.3" text-anchor="start" textLength="132" lengthAdjust="spacingAndGlyphs">Control Unit</text>
<text x="1032" y="1039.4" font-size="14.04" fill="#222" stroke="#222" stroke-width="0.3" text-anchor="start" textLength="9.2" lengthAdjust="spacingAndGlyphs">R</text>
<text x="1052.6" y="1039.2" font-size="12.96" fill="#222" stroke="#222" stroke-width="0.3" text-anchor="start" textLength="13.2" lengthAdjust="spacingAndGlyphs">W</text>
<text transform="translate(1087.7,1042.1) rotate(-90)" font-size="14.26" fill="#222" stroke="#222" stroke-width="0.3" textLength="21.5" lengthAdjust="spacingAndGlyphs">IOR</text>
<text transform="translate(1110.5,1042.1) rotate(-90)" font-size="14.26" fill="#222" stroke="#222" stroke-width="0.3" textLength="24.3" lengthAdjust="spacingAndGlyphs">IOW</text>
<text transform="translate(1134.1,1042.1) rotate(-90)" font-size="14.26" fill="#222" stroke="#222" stroke-width="0.3" textLength="27" lengthAdjust="spacingAndGlyphs">INTA</text>
<text transform="translate(1156.3,1040.7) rotate(-90)" font-size="14.26" fill="#222" stroke="#222" stroke-width="0.3" textLength="18.7" lengthAdjust="spacingAndGlyphs">INT</text>
<text transform="translate(1181.2,1042.1) rotate(-90)" font-size="14.26" fill="#222" stroke="#222" stroke-width="0.3" textLength="32.6" lengthAdjust="spacingAndGlyphs">MRdy</text>
<text transform="translate(1206.9,1042.8) rotate(-90)" font-size="14.26" fill="#222" stroke="#222" stroke-width="0.3" textLength="34.7" lengthAdjust="spacingAndGlyphs">IORdy</text>
<line x1="1065" y1="1108.5" x2="1065" y2="1154.3" stroke="#161616" stroke-width="1.41"/>
<polygon points="1054.7,1154.3 1075.3,1154.3 1065,1166" fill="#fff" stroke="#161616" stroke-width="1.58" stroke-linejoin="miter"/>
<line x1="1045.6" y1="1161.5" x2="1060.2" y2="1161.5" stroke="#161616" stroke-width="1.94"/>
<text x="1016.7" y="1165.4" font-size="15.12" fill="#161616" stroke="#161616" stroke-width="0.3" text-anchor="start" textLength="26.5" lengthAdjust="spacingAndGlyphs">T11</text>
<line x1="1065" y1="1166" x2="1065" y2="1187" stroke="#161616" stroke-width="1.58"/>
<polygon points="1065,1185.5 1060.6,1177.7 1069.4,1177.7" fill="#161616"/>
<line x1="1099.7" y1="1108.5" x2="1099.7" y2="1120" stroke="#161616" stroke-width="1.85"/>
<polygon points="1099.7,1129.8 1095.3,1119.3 1104.1,1119.3" fill="#161616"/>
<line x1="1110.8" y1="1108.5" x2="1110.8" y2="1120" stroke="#161616" stroke-width="1.85"/>
<polygon points="1110.8,1129.8 1106.4,1119.3 1115.2,1119.3" fill="#161616"/>
<line x1="1121.9" y1="1108.5" x2="1121.9" y2="1120" stroke="#161616" stroke-width="1.85"/>
<polygon points="1121.9,1129.8 1117.5,1119.3 1126.3,1119.3" fill="#161616"/>
<line x1="1130.2" y1="1108.5" x2="1130.2" y2="1120" stroke="#161616" stroke-width="1.85"/>
<polygon points="1130.2,1129.8 1125.8,1119.3 1134.6,1119.3" fill="#161616"/>
<text x="1090.9" y="1145.5" font-size="15.66" fill="#161616" stroke="#161616" stroke-width="0.3" text-anchor="start" textLength="49.4" lengthAdjust="spacingAndGlyphs">Control</text>
<text x="1090.9" y="1159.8" font-size="15.66" fill="#161616" stroke="#161616" stroke-width="0.3" text-anchor="start" textLength="50.6" lengthAdjust="spacingAndGlyphs">Signals</text>
<line x1="1174.7" y1="1132.1" x2="1174.7" y2="1112" stroke="#161616" stroke-width="1.76"/>
<polygon points="1174.7,1109.4 1170.6,1114 1178.8,1114" fill="#161616"/>
<polyline points="1155.1,1142.9 1162.6,1142.9 1162.6,1137.2 1170,1137.2 1170,1142.9 1176.7,1142.9 1176.7,1137.2 1184.5,1137.2 1184.5,1142.9 1191.2,1142.9" fill="none" stroke="#161616" stroke-width="1.85" stroke-linejoin="miter"/>
<text x="1159" y="1159.6" font-size="15.66" fill="#161616" stroke="#161616" stroke-width="0.3" text-anchor="start" textLength="29.8" lengthAdjust="spacingAndGlyphs">CLK</text>
<polyline points="1177,1341.8 1208.5,1341.8 1208.5,1112" fill="none" stroke="#161616" stroke-width="1.58" stroke-linejoin="miter"/>
<polygon points="1208.5,1109.6 1203.8,1119.6 1213.2,1119.6" fill="#161616"/>
<polygon points="1177.2,1341.8 1186.2,1337.3 1186.2,1346.3" fill="#161616"/>
<line x1="1125.8" y1="1228.8" x2="1208.5" y2="1228.8" stroke="#161616" stroke-width="1.23"/>
<polyline points="452.5,1187 452.5,1391.5 573.8,1391.5 573.8,1364.4" fill="none" stroke="#161616" stroke-width="1.23" stroke-linejoin="miter"/>
<polygon points="573.8,1364.4 569.4,1372.2 578.2,1372.2" fill="#161616"/>
<text x="555.3" y="1383.6" font-size="15.12" fill="#161616" stroke="#161616" stroke-width="0.3" text-anchor="start" textLength="10.6" lengthAdjust="spacingAndGlyphs">C</text>
<line x1="552" y1="1290.3" x2="552" y2="1229.1" stroke="#161616" stroke-width="1.41"/>
<polygon points="552,1215.8 541.4,1229.1 562.6,1229.1" fill="#fff" stroke="#161616" stroke-width="1.58" stroke-linejoin="miter"/>
<line x1="552" y1="1215.8" x2="552" y2="1189" stroke="#161616" stroke-width="1.58"/>
<polygon points="552,1189.4 547.6,1197.2 556.4,1197.2" fill="#161616"/>
<line x1="531.4" y1="1222.4" x2="546" y2="1222.4" stroke="#161616" stroke-width="1.94"/>
<text x="510.2" y="1226.8" font-size="15.12" fill="#161616" stroke="#161616" stroke-width="0.3" text-anchor="start" textLength="18.6" lengthAdjust="spacingAndGlyphs">T9</text>
<line x1="595.1" y1="1290.3" x2="595.1" y2="1229.1" stroke="#161616" stroke-width="1.41"/>
<polygon points="595.1,1215.8 584.5,1229.1 605.7,1229.1" fill="#fff" stroke="#161616" stroke-width="1.58" stroke-linejoin="miter"/>
<line x1="595.1" y1="1215.8" x2="595.1" y2="1189" stroke="#161616" stroke-width="1.58"/>
<polygon points="595.1,1189.4 590.7,1197.2 599.5,1197.2" fill="#161616"/>
<line x1="600.4" y1="1222.4" x2="615.6" y2="1222.4" stroke="#161616" stroke-width="1.94"/>
<text x="617.5" y="1226.8" font-size="15.12" fill="#161616" stroke="#161616" stroke-width="0.3" text-anchor="start" textLength="27.9" lengthAdjust="spacingAndGlyphs">T10</text>
<circle cx="552" cy="1275.5" r="4.1" fill="#161616"/>
<text x="534.7" y="1280.1" font-size="15.12" fill="#161616" stroke="#161616" stroke-width="0.3" text-anchor="start" textLength="10" lengthAdjust="spacingAndGlyphs">A</text>
<polyline points="552,1275.5 708.3,1275.5 708.3,1299.8" fill="none" stroke="#161616" stroke-width="1.23" stroke-linejoin="miter"/>
<polygon points="708.3,1299.8 703.9,1292 712.7,1292" fill="#161616"/>
<circle cx="595.1" cy="1263.8" r="4.1" fill="#161616"/>
<text x="577.2" y="1268.2" font-size="15.12" fill="#161616" stroke="#161616" stroke-width="0.3" text-anchor="start" textLength="9.2" lengthAdjust="spacingAndGlyphs">B</text>
<polyline points="595.1,1263.8 788.3,1263.8 788.3,1299.8" fill="none" stroke="#161616" stroke-width="1.23" stroke-linejoin="miter"/>
<polygon points="788.3,1299.8 783.9,1292 792.7,1292" fill="#161616"/>
<rect x="528.98" y="1291.18" width="91.04" height="72.34" fill="none" stroke="#161616" stroke-width="1.76"/>
<text x="541.4" y="1323.9" font-size="16.74" fill="#161616" stroke="#161616" stroke-width="0.3" text-anchor="start" textLength="65.6" lengthAdjust="spacingAndGlyphs">Register</text>
<text x="562.6" y="1343.1" font-size="16.74" fill="#161616" stroke="#161616" stroke-width="0.3" text-anchor="start" textLength="27.2" lengthAdjust="spacingAndGlyphs">File</text>
<line x1="497.6" y1="1301.4" x2="528.1" y2="1301.4" stroke="#161616" stroke-width="1.23"/>
<line x1="511.9" y1="1306.7" x2="518.5" y2="1296.1" stroke="#161616" stroke-width="1.14"/>
<text x="506.6" y="1298" font-size="11.66" fill="#161616" stroke="#161616" stroke-width="0.3" text-anchor="start">5</text>
<text x="470.4" y="1305.3" font-size="16.2" fill="#161616" stroke="#161616" stroke-width="0.3" text-anchor="start" textLength="23.4" lengthAdjust="spacingAndGlyphs">RA</text>
<line x1="497.6" y1="1319.3" x2="528.1" y2="1319.3" stroke="#161616" stroke-width="1.23"/>
<line x1="510.9" y1="1324.6" x2="517.5" y2="1314" stroke="#161616" stroke-width="1.14"/>
<text x="504.1" y="1316" font-size="11.66" fill="#161616" stroke="#161616" stroke-width="0.3" text-anchor="start">5</text>
<text x="470.4" y="1323.2" font-size="16.2" fill="#161616" stroke="#161616" stroke-width="0.3" text-anchor="start" textLength="23.4" lengthAdjust="spacingAndGlyphs">RB</text>
<line x1="497.6" y1="1337.8" x2="528.1" y2="1337.8" stroke="#161616" stroke-width="1.23"/>
<line x1="510.1" y1="1343.1" x2="516.7" y2="1332.5" stroke="#161616" stroke-width="1.14"/>
<text x="505.1" y="1335.2" font-size="11.66" fill="#161616" stroke="#161616" stroke-width="0.3" text-anchor="start">5</text>
<text x="470.4" y="1340.5" font-size="16.2" fill="#161616" stroke="#161616" stroke-width="0.3" text-anchor="start" textLength="23.4" lengthAdjust="spacingAndGlyphs">RC</text>
<line x1="496.3" y1="1354.4" x2="528.1" y2="1354.4" stroke="#161616" stroke-width="1.94"/>
<text x="470.4" y="1359.7" font-size="16.2" fill="#161616" stroke="#161616" stroke-width="0.3" text-anchor="start" textLength="21.2" lengthAdjust="spacingAndGlyphs">LC</text>
<line x1="716.9" y1="1189" x2="716.9" y2="1230.1" stroke="#161616" stroke-width="1.58"/>
<polygon points="716.9,1230.1 712.5,1222.3 721.3,1222.3" fill="#161616"/>
<line x1="735.8" y1="1230.1" x2="735.8" y2="1217.8" stroke="#161616" stroke-width="1.41"/>
<polygon points="735.8,1204.5 725.5,1217.8 746.1,1217.8" fill="#fff" stroke="#161616" stroke-width="1.58" stroke-linejoin="miter"/>
<line x1="735.8" y1="1204.5" x2="735.8" y2="1189" stroke="#161616" stroke-width="1.58"/>
<polygon points="735.8,1189.4 731.4,1197.2 740.2,1197.2" fill="#161616"/>
<line x1="740.8" y1="1210.8" x2="755.4" y2="1210.8" stroke="#161616" stroke-width="1.94"/>
<text x="758" y="1214.2" font-size="15.12" fill="#161616" stroke="#161616" stroke-width="0.3" text-anchor="start" textLength="18" lengthAdjust="spacingAndGlyphs">T4</text>
<rect x="696.28" y="1230.98" width="58.84" height="16.04" fill="none" stroke="#161616" stroke-width="1.76"/>
<text x="713" y="1244.3" font-size="16.2" fill="#161616" stroke="#161616" stroke-width="0.3" text-anchor="start" textLength="26.5" lengthAdjust="spacingAndGlyphs">RT1</text>
<line x1="681.1" y1="1238.6" x2="695.4" y2="1238.6" stroke="#161616" stroke-width="1.94"/>
<text x="659.2" y="1243" font-size="15.12" fill="#161616" stroke="#161616" stroke-width="0.3" text-anchor="start" textLength="19.3" lengthAdjust="spacingAndGlyphs">C4</text>
<line x1="730.2" y1="1247.9" x2="730.2" y2="1299.8" stroke="#161616" stroke-width="1.58"/>
<polygon points="730.2,1299.8 725.8,1292 734.6,1292" fill="#161616"/>
<rect x="694.89" y="1300.59" width="50.42" height="25.82" fill="none" stroke="#161616" stroke-width="1.58"/>
<text x="707.9" y="1310.6" font-size="12.2" fill="#161616" stroke="#161616" stroke-width="0.3" text-anchor="middle">0</text>
<text x="730.2" y="1310.6" font-size="12.2" fill="#161616" stroke="#161616" stroke-width="0.3" text-anchor="middle">1</text>
<text x="705" y="1323.9" font-size="12.96" fill="#161616" stroke="#161616" stroke-width="0.3" text-anchor="start" textLength="30.5" lengthAdjust="spacingAndGlyphs">MUX</text>
<line x1="679.1" y1="1315.3" x2="694.1" y2="1315.3" stroke="#161616" stroke-width="1.94"/>
<text x="651.9" y="1319.3" font-size="16.2" fill="#161616" stroke="#161616" stroke-width="0.3" text-anchor="start" textLength="24.6" lengthAdjust="spacingAndGlyphs">MA</text>
<line x1="720.2" y1="1327.2" x2="720.2" y2="1346.4" stroke="#161616" stroke-width="1.58"/>
<polygon points="720.2,1346.4 715.8,1338.6 724.6,1338.6" fill="#161616"/>
<line x1="809.5" y1="1189" x2="809.5" y2="1229.3" stroke="#161616" stroke-width="1.58"/>
<polygon points="809.5,1229.3 805.1,1221.5 813.9,1221.5" fill="#161616"/>
<line x1="828.6" y1="1229.3" x2="828.6" y2="1217.8" stroke="#161616" stroke-width="1.41"/>
<polygon points="828.6,1204.5 818.3,1217.8 838.9,1217.8" fill="#fff" stroke="#161616" stroke-width="1.58" stroke-linejoin="miter"/>
<line x1="828.6" y1="1204.5" x2="828.6" y2="1189" stroke="#161616" stroke-width="1.58"/>
<polygon points="828.6,1189.4 824.2,1197.2 833,1197.2" fill="#161616"/>
<line x1="833.6" y1="1210.8" x2="849.3" y2="1210.8" stroke="#161616" stroke-width="1.94"/>
<text x="852.6" y="1214.5" font-size="15.12" fill="#161616" stroke="#161616" stroke-width="0.3" text-anchor="start" textLength="19.2" lengthAdjust="spacingAndGlyphs">T5</text>
<rect x="789.38" y="1230.18" width="58.34" height="16.54" fill="none" stroke="#161616" stroke-width="1.76"/>
<text x="805.1" y="1243.7" font-size="16.2" fill="#161616" stroke="#161616" stroke-width="0.3" text-anchor="start" textLength="28.5" lengthAdjust="spacingAndGlyphs">RT2</text>
<line x1="848.6" y1="1238" x2="863.9" y2="1238" stroke="#161616" stroke-width="1.94"/>
<text x="867.2" y="1242.1" font-size="15.12" fill="#161616" stroke="#161616" stroke-width="0.3" text-anchor="start" textLength="21.2" lengthAdjust="spacingAndGlyphs">C5</text>
<line x1="810.4" y1="1247.6" x2="810.4" y2="1299.8" stroke="#161616" stroke-width="1.58"/>
<polygon points="810.4,1299.8 806,1292 814.8,1292" fill="#161616"/>
<rect x="870.19" y="1255.49" width="65.82" height="27.82" fill="none" stroke="#161616" stroke-width="1.58"/>
<line x1="869.4" y1="1269.4" x2="936.8" y2="1269.4" stroke="#161616" stroke-width="1.94"/>
<text x="874.7" y="1264.9" font-size="11.88" fill="#444" stroke="#444" stroke-width="0.3" text-anchor="start" textLength="56.8" lengthAdjust="spacingAndGlyphs">00…0100</text>
<text x="874.7" y="1280.1" font-size="11.88" fill="#444" stroke="#444" stroke-width="0.3" text-anchor="start" textLength="56.8" lengthAdjust="spacingAndGlyphs">00…0001</text>
<polyline points="869.4,1262.9 831,1262.9 831,1299.8" fill="none" stroke="#161616" stroke-width="1.23" stroke-linejoin="miter"/>
<polygon points="831,1299.8 826.6,1292 835.4,1292" fill="#161616"/>
<polyline points="869.4,1276.8 851.9,1276.8 851.9,1299.8" fill="none" stroke="#161616" stroke-width="1.23" stroke-linejoin="miter"/>
<polygon points="851.9,1299.8 847.5,1292 856.3,1292" fill="#161616"/>
<rect x="773.79" y="1300.59" width="93.32" height="25.82" fill="none" stroke="#161616" stroke-width="1.58"/>
<text x="788.5" y="1310.3" font-size="12.2" fill="#161616" stroke="#161616" stroke-width="0.3" text-anchor="middle">00</text>
<text x="809.1" y="1310.3" font-size="12.2" fill="#161616" stroke="#161616" stroke-width="0.3" text-anchor="middle">01</text>
<text x="831" y="1310.3" font-size="12.2" fill="#161616" stroke="#161616" stroke-width="0.3" text-anchor="middle">10</text>
<text x="852.2" y="1310.3" font-size="12.2" fill="#161616" stroke="#161616" stroke-width="0.3" text-anchor="middle">11</text>
<text x="803.1" y="1323.9" font-size="12.96" fill="#161616" stroke="#161616" stroke-width="0.3" text-anchor="start" textLength="29.9" lengthAdjust="spacingAndGlyphs">MUX</text>
<line x1="867.9" y1="1315.3" x2="893" y2="1315.3" stroke="#161616" stroke-width="1.94"/>
<line x1="879.2" y1="1320.3" x2="885.6" y2="1310.3" stroke="#161616" stroke-width="1.14"/>
<text x="876.5" y="1310" font-size="11.66" fill="#161616" stroke="#161616" stroke-width="0.3" text-anchor="start">2</text>
<text x="898.4" y="1319.3" font-size="16.2" fill="#161616" stroke="#161616" stroke-width="0.3" text-anchor="start" textLength="23.8" lengthAdjust="spacingAndGlyphs">MB</text>
<line x1="819" y1="1327.2" x2="819" y2="1346.4" stroke="#161616" stroke-width="1.58"/>
<polygon points="819,1346.4 814.6,1338.6 823.4,1338.6" fill="#161616"/>
<polygon points="688.4,1346.6 752.1,1346.6 772.6,1357.3 795.2,1346.6 862.5,1346.6 818.4,1384.9 732.2,1384.9" fill="#fff" stroke="#161616" stroke-width="2.29" stroke-linejoin="bevel"/>
<text x="750.1" y="1377" font-size="22.68" fill="#161616" stroke="#161616" stroke-width="0.3" text-anchor="start" textLength="45.7" lengthAdjust="spacingAndGlyphs">ALU</text>
<line x1="683.8" y1="1375" x2="719.6" y2="1375" stroke="#161616" stroke-width="1.58"/>
<line x1="698.5" y1="1380" x2="704.9" y2="1370" stroke="#161616" stroke-width="1.14"/>
<text x="694" y="1371.6" font-size="11.66" fill="#161616" stroke="#161616" stroke-width="0.3" text-anchor="start">4</text>
<text x="649.3" y="1378.3" font-size="16.2" fill="#161616" stroke="#161616" stroke-width="0.3" text-anchor="start" textLength="29.8" lengthAdjust="spacingAndGlyphs">Cop</text>
<polyline points="829.7,1377.2 1103.6,1377.2 1103.6,1357.5" fill="none" stroke="#161616" stroke-width="1.23" stroke-linejoin="miter"/>
<polygon points="1103.6,1357.5 1099.1,1366.5 1108.1,1366.5" fill="#161616"/>
<line x1="903.1" y1="1382.2" x2="909.5" y2="1372.2" stroke="#161616" stroke-width="1.14"/>
<text x="899.5" y="1371.6" font-size="11.66" fill="#161616" stroke="#161616" stroke-width="0.3" text-anchor="start">4</text>
<line x1="1078.9" y1="1382" x2="1089.9" y2="1371" stroke="#161616" stroke-width="1.14"/>
<polyline points="772,1384.9 772,1396.8 970.6,1396.8 970.6,1219.8" fill="none" stroke="#161616" stroke-width="1.23" stroke-linejoin="miter"/>
<polygon points="970.6,1207.2 960,1219.8 981.2,1219.8" fill="#fff" stroke="#161616" stroke-width="1.58" stroke-linejoin="miter"/>
<line x1="970.6" y1="1207.2" x2="970.6" y2="1189" stroke="#161616" stroke-width="1.58"/>
<polygon points="970.6,1189.4 966.2,1197.2 975,1197.2" fill="#161616"/>
<line x1="947.4" y1="1213.2" x2="964.7" y2="1213.2" stroke="#161616" stroke-width="1.94"/>
<text x="926.2" y="1217.1" font-size="15.12" fill="#161616" stroke="#161616" stroke-width="0.3" text-anchor="start" textLength="18.6" lengthAdjust="spacingAndGlyphs">T6</text>
<circle cx="970.6" cy="1305.3" r="4.1" fill="#161616"/>
<polyline points="970.6,1305.3 1008.4,1305.3 1008.4,1284.1" fill="none" stroke="#161616" stroke-width="1.23" stroke-linejoin="miter"/>
<rect x="983.66" y="1263.96" width="48.29" height="19.09" fill="none" stroke="#161616" stroke-width="2.11"/>
<text x="993.2" y="1278.1" font-size="16.2" fill="#161616" stroke="#161616" stroke-width="0.3" text-anchor="start" textLength="28.5" lengthAdjust="spacingAndGlyphs">RT3</text>
<line x1="1033" y1="1274.4" x2="1046.2" y2="1274.4" stroke="#161616" stroke-width="1.94"/>
<text x="1043.9" y="1268.9" font-size="15.12" fill="#161616" stroke="#161616" stroke-width="0.3" text-anchor="start" textLength="21.9" lengthAdjust="spacingAndGlyphs">C6</text>
<line x1="1008.4" y1="1262.9" x2="1008.4" y2="1219.8" stroke="#161616" stroke-width="1.41"/>
<polygon points="1008.4,1207.2 998.1,1219.8 1018.7,1219.8" fill="#fff" stroke="#161616" stroke-width="1.58" stroke-linejoin="miter"/>
<line x1="1008.4" y1="1207.2" x2="1008.4" y2="1189" stroke="#161616" stroke-width="1.58"/>
<polygon points="1008.4,1189.4 1004,1197.2 1012.8,1197.2" fill="#161616"/>
<line x1="1012.4" y1="1213.2" x2="1031.6" y2="1213.2" stroke="#161616" stroke-width="1.94"/>
<text x="1035" y="1217.1" font-size="15.12" fill="#161616" stroke="#161616" stroke-width="0.3" text-anchor="start" textLength="17.9" lengthAdjust="spacingAndGlyphs">T7</text>
<text x="987.9" y="1393.2" font-size="16.2" fill="#161616" stroke="#161616" stroke-width="0.3" text-anchor="start">C</text>
<text x="1010.4" y="1393.2" font-size="16.2" fill="#161616" stroke="#161616" stroke-width="0.3" text-anchor="start">V</text>
<text x="1031.3" y="1393.2" font-size="16.2" fill="#161616" stroke="#161616" stroke-width="0.3" text-anchor="start">N</text>
<text x="1051.9" y="1393.2" font-size="16.2" fill="#161616" stroke="#161616" stroke-width="0.3" text-anchor="start">Z</text>
<polyline points="1087.3,1187 1087.3,1315.9 1114.9,1315.9 1114.9,1301.4" fill="none" stroke="#161616" stroke-width="1.23" stroke-linejoin="miter"/>
<polygon points="1114.9,1301.4 1110.5,1309.2 1119.3,1309.2" fill="#161616"/>
<polygon points="1125.8,1204.5 1114.9,1218.5 1136.7,1218.5" fill="#fff" stroke="#161616" stroke-width="1.58" stroke-linejoin="miter"/>
<line x1="1125.8" y1="1204.5" x2="1125.8" y2="1189" stroke="#161616" stroke-width="1.58"/>
<polygon points="1125.8,1189.4 1121.4,1197.2 1130.2,1197.2" fill="#161616"/>
<line x1="1125.8" y1="1218.5" x2="1125.8" y2="1239.7" stroke="#161616" stroke-width="1.41"/>
<line x1="1131.5" y1="1211.2" x2="1150.7" y2="1211.2" stroke="#161616" stroke-width="1.94"/>
<text x="1154" y="1214.2" font-size="15.12" fill="#161616" stroke="#161616" stroke-width="0.3" text-anchor="start" textLength="18.6" lengthAdjust="spacingAndGlyphs">T8</text>
<rect x="1101.99" y="1240.49" width="47.92" height="16.92" fill="none" stroke="#161616" stroke-width="1.58"/>
<text x="1116.2" y="1253.3" font-size="16.2" fill="#161616" stroke="#161616" stroke-width="0.3" text-anchor="start" textLength="21.2" lengthAdjust="spacingAndGlyphs">SR</text>
<line x1="1150.7" y1="1249.2" x2="1169.3" y2="1249.2" stroke="#161616" stroke-width="1.94"/>
<text x="1173.2" y="1254.3" font-size="15.12" fill="#161616" stroke="#161616" stroke-width="0.3" text-anchor="start" textLength="20.6" lengthAdjust="spacingAndGlyphs">C7</text>
<line x1="1126.2" y1="1258.2" x2="1126.2" y2="1272.8" stroke="#161616" stroke-width="1.41"/>
<rect x="1103.99" y="1273.59" width="45.52" height="27.02" fill="none" stroke="#161616" stroke-width="1.58"/>
<text x="1111.6" y="1285.4" font-size="12.42" fill="#222" stroke="#222" stroke-width="0.3" text-anchor="start" textLength="28.5" lengthAdjust="spacingAndGlyphs">MUX</text>
<text x="1114.9" y="1297.4" font-size="12.2" fill="#161616" stroke="#161616" stroke-width="0.3" text-anchor="middle">0</text>
<text x="1138.1" y="1297.4" font-size="12.2" fill="#161616" stroke="#161616" stroke-width="0.3" text-anchor="middle">1</text>
<line x1="1150.3" y1="1289.4" x2="1166" y2="1289.4" stroke="#161616" stroke-width="1.94"/>
<text x="1169.9" y="1294.1" font-size="15.12" fill="#161616" stroke="#161616" stroke-width="0.3" text-anchor="start" textLength="21.9" lengthAdjust="spacingAndGlyphs">M7</text>
<line x1="1138.1" y1="1325.9" x2="1138.1" y2="1301.4" stroke="#161616" stroke-width="1.58"/>
<polygon points="1138.1,1301.4 1133.6,1310.4 1142.6,1310.4" fill="#161616"/>
<rect x="1084.09" y="1326.69" width="92.12" height="30.02" fill="none" stroke="#161616" stroke-width="1.58"/>
<text x="1108.2" y="1340.5" font-size="12.96" fill="#222" stroke="#222" stroke-width="0.3" text-anchor="start" textLength="46.5" lengthAdjust="spacingAndGlyphs">SELEC</text>
<text x="1097.6" y="1353.7" font-size="11.34" fill="#161616" stroke="#161616" stroke-width="0.3" text-anchor="start" textLength="10.6" lengthAdjust="spacingAndGlyphs">11</text>
<text x="1122.8" y="1353.7" font-size="11.34" fill="#161616" stroke="#161616" stroke-width="0.3" text-anchor="start" textLength="13.3" lengthAdjust="spacingAndGlyphs">10</text>
<text x="1148" y="1353.7" font-size="11.34" fill="#161616" stroke="#161616" stroke-width="0.3" text-anchor="start" textLength="13.3" lengthAdjust="spacingAndGlyphs">01</text>
<line x1="1056.5" y1="1345.8" x2="1083.3" y2="1345.8" stroke="#161616" stroke-width="1.23"/>
<line x1="1070.6" y1="1350.8" x2="1077" y2="1340.8" stroke="#161616" stroke-width="1.14"/>
<text x="1067.5" y="1341.8" font-size="11.66" fill="#161616" stroke="#161616" stroke-width="0.3" text-anchor="start">2</text>
<text x="1022.4" y="1347.2" font-size="15.12" fill="#161616" stroke="#161616" stroke-width="0.3" text-anchor="start" textLength="34.2" lengthAdjust="spacingAndGlyphs">SelP</text>
<line x1="1129.2" y1="1357.5" x2="1129.2" y2="1369.7" stroke="#161616" stroke-width="1.32"/>
<line x1="1154.7" y1="1357.5" x2="1154.7" y2="1369.7" stroke="#161616" stroke-width="1.32"/>
<text x="1129.2" y="1385.2" font-size="16.2" fill="#161616" stroke="#161616" stroke-width="0.3" text-anchor="middle">I</text>
<text x="1149.6" y="1385.2" font-size="16.2" fill="#161616" stroke="#161616" stroke-width="0.3" text-anchor="start" textLength="10.6" lengthAdjust="spacingAndGlyphs">U</text>
</svg>
</body></html>
